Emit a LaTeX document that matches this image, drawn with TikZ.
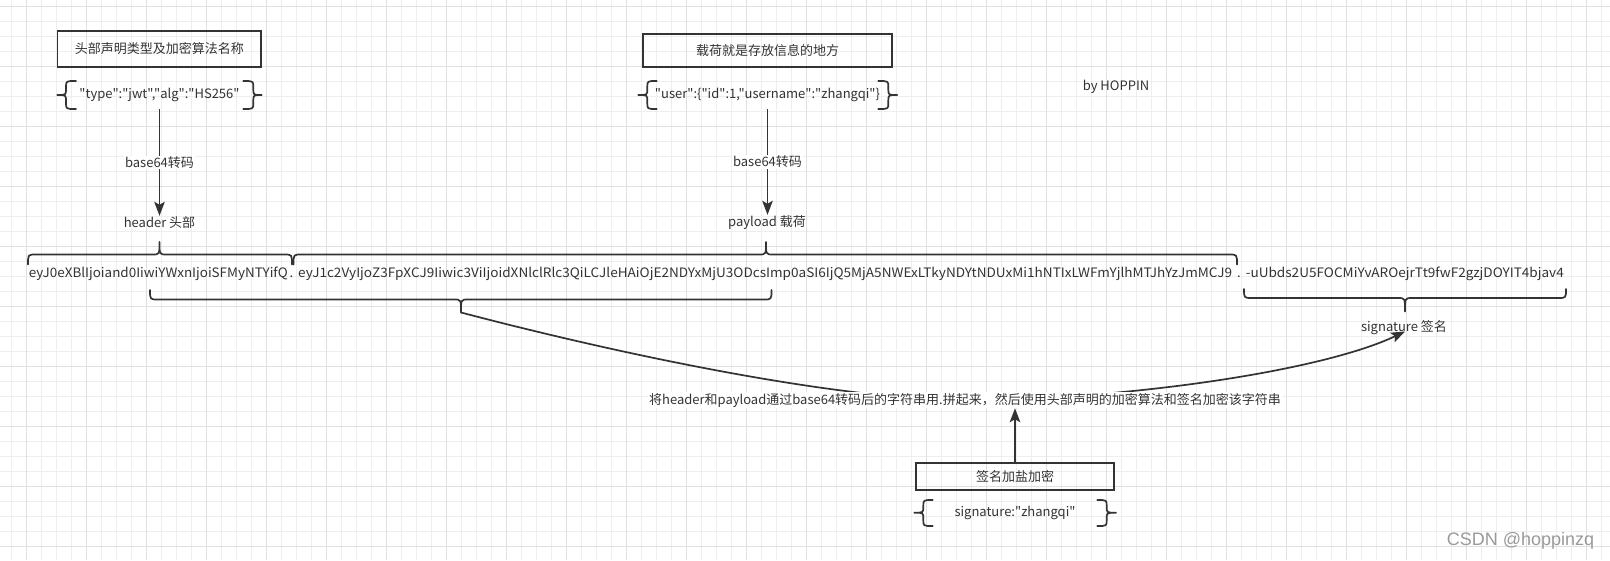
\documentclass[tikz,border=0pt]{standalone}
\usepackage{fontspec}
\usepackage{graphicx}
\newfontfamily\cjkmain{Noto Sans CJK SC}
\newfontfamily\wmfont{Liberation Sans}
\usetikzlibrary{arrows.meta}
\pgfdeclarelayer{gridlayer}
\pgfdeclarelayer{edgelayer}
\pgfsetlayers{gridlayer,edgelayer,main}
\definecolor{ink}{HTML}{333333}
\definecolor{gridminor}{HTML}{EEEEEE}
\definecolor{gridmajor}{HTML}{E0E0E0}
\definecolor{wm}{HTML}{9A9A9A}
\tikzset{
  txt/.style={font=\cjkmain\fontsize{13}{15}\selectfont, text=ink, inner sep=1pt},
  titlebox/.style={draw=ink, line width=1.7pt, text=ink, font=\cjkmain\fontsize{13}{15}\selectfont, inner sep=0pt},
  brace/.style={draw=ink, line width=1.7pt, line join=round, line cap=round},
  arr/.style={draw=ink, line width=1.7pt, -{Stealth[length=14pt,width=10.5pt,inset=3pt]}},
  edgelbl/.style={txt, fill=white},
}
% horizontal brace: x1 x2 tip yline yend ytip
\newcommand{\hbr}[6]{%
  \draw[brace] (#1,#5) .. controls (#1,#4) .. (#1+8,#4) -- (#3-7,#4)
    .. controls (#3,#4) .. (#3,#6) .. controls (#3,#4) .. (#3+7,#4)
    -- (#2-8,#4) .. controls (#2,#4) .. (#2,#5);}
% vertical brace: xtip xline xend ytop ybot ymid
\newcommand{\vbr}[6]{%
  \draw[brace] (#3,#4) .. controls (#2,#4) .. (#2,#4+6) -- (#2,#6-6)
    .. controls (#2,#6) .. (#1,#6) .. controls (#2,#6) .. (#2,#6+6)
    -- (#2,#5-6) .. controls (#2,#5) .. (#3,#5);}
\begin{document}
\begin{tikzpicture}[x=1pt,y=-1pt]
\useasboundingbox (0,0) rectangle (1610,560);
\begin{pgfonlayer}{gridlayer}
  \fill[white] (0,0) rectangle (1610,560);
  \foreach \gx in {11.7,26.7,...,1610} \draw[gridminor, line width=1pt] (\gx,0) -- (\gx,560);
  \foreach \gy in {6.7,21.7,...,560} \draw[gridminor, line width=1pt] (0,\gy) -- (1610,\gy);
  \foreach \gx in {26.7,86.7,...,1610} \draw[gridmajor, line width=1pt] (\gx,0) -- (\gx,560);
  \foreach \gy in {6.7,66.7,...,560} \draw[gridmajor, line width=1pt] (0,\gy) -- (1610,\gy);
\end{pgfonlayer}

% header column
\node[titlebox, minimum width=203.5pt, minimum height=36pt] (hbox) at (159.25,49) {头部声明类型及加密算法名称};
\node[txt, minimum height=28pt] (hjson) at (159.5,95) {"type":"jwt","alg":"HS256"};
\node[txt] (hdr) at (159.5,223) {header 头部};

% payload column
\node[titlebox, minimum width=249pt, minimum height=33pt] (pbox) at (767.5,50.5) {载荷就是存放信息的地方};
\node[txt, minimum height=28pt] (pjson) at (767.5,95) {"user":\{"id":1,"username":"zhangqi"\}};
\node[txt] (pld) at (767,223) {payload 载荷};

\node[txt] (by) at (1116,87) {by HOPPIN};

% token line
\node[txt, anchor=base west, inner sep=0pt] (tokh) at (28.6,277) {\resizebox{259pt}{\height}{eyJ0eXBlIjoiand0IiwiYWxnIjoiSFMyNTYifQ}};
\node[txt, anchor=base, inner sep=0pt] (dot1) at (291.5,277) {.};
\node[txt, anchor=base west, inner sep=0pt] (tokp) at (298,277) {\resizebox{934pt}{\height}{eyJ1c2VyIjoZ3FpXCJ9Iiwic3ViIjoidXNlclRlc3QiLCJleHAiOjE2NDYxMjU3ODcsImp0aSI6IjQ5MjA5NWExLTkyNDYtNDUxMi1hNTIxLWFmYjlhMTJhYzJmMCJ9}};
\node[txt, anchor=base, inner sep=0pt] (dot2) at (1239,277) {.};
\node[txt, anchor=base west, inner sep=0pt] (toks) at (1245.6,277) {\resizebox{318pt}{\height}{-uUbds2U5FOCMiYvAROejrTt9fwF2gzjDOYIT4bjav4}};

\node[txt] (sig) at (1404,328) {signature 签名};
\node[edgelbl] (join) at (965,400) {将header和payload通过base64转码后的字符串用.拼起来，然后使用头部声明的加密算法和签名加密该字符串};

% salt
\node[titlebox, minimum width=198.6pt, minimum height=27pt] (salt) at (1015,476.8) {签名加盐加密};
\node[txt, minimum height=26pt] (sjson) at (1015,512.7) {signature:"zhangqi"};

\node[font=\wmfont\fontsize{18}{20}\selectfont, text=wm, inner sep=0pt] (wm) at (1520.5,540.7) {CSDN @hoppinzq};

\coordinate (btip) at (461,312.5);
\coordinate (sigtip) at (1405,331.5);

% braces
\vbr{57.3}{66}{76}{81}{109}{95}
\vbr{261.7}{253.3}{243.3}{81}{109}{95}
\vbr{638.3}{647.3}{656.7}{81}{109}{95}
\vbr{897.3}{888.3}{878.3}{81}{109}{95}
\vbr{914.3}{923.3}{932.7}{500}{526}{512.7}
\vbr{1116}{1106.7}{1097.3}{500}{526}{512.7}
\hbr{28}{292}{159.5}{254.5}{264.5}{242}
\hbr{293.5}{1237}{766}{254.5}{264.5}{242}
\hbr{150}{771.5}{461}{299.5}{290}{312.5}
\hbr{1244}{1566}{1405}{298}{289}{311.5}

% connectors
\begin{pgfonlayer}{edgelayer}
  \draw[arr] (hjson.south) -- node[edgelbl] {base64转码} (hdr.north);
  \draw[arr] (pjson.south) -- node[edgelbl] {base64转码} (pjson.south |- pld.north);
  \draw[arr] (btip) .. controls (650,362) and (850,400) .. (join.center)
                    .. controls (1120,400) and (1320,372) .. (sigtip);
  \draw[arr] (salt.north) -- (salt.north |- join.south);
\end{pgfonlayer}
\end{tikzpicture}
\end{document}
